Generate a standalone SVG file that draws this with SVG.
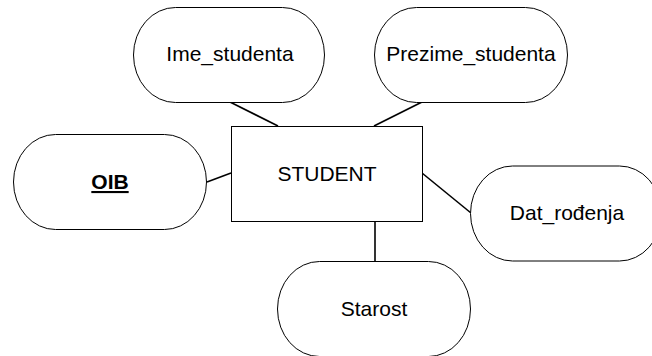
<svg xmlns="http://www.w3.org/2000/svg" width="652" height="356" viewBox="0 0 652 356">
<style>
.attr{fill:#ffffff;stroke:#000000;stroke-width:1}
.ent{fill:#ffffff;stroke:#000000;stroke-width:1}
.lbl{font-family:"Liberation Sans",Arial,sans-serif;font-size:21px;fill:#000000;text-anchor:middle}
.key{font-weight:bold;text-decoration:underline}
.conn line{stroke:#000000;stroke-width:1.6}
</style>
<rect width="652" height="356" fill="#ffffff"/>
<g id="connectors" class="conn">
<line x1="230" y1="102" x2="278" y2="126"/>
<line x1="422" y1="102" x2="374" y2="126"/>
<line x1="207" y1="182" x2="231" y2="173"/>
<line x1="422" y1="173" x2="471" y2="213"/>
<line x1="375" y1="221" x2="375" y2="262"/>
</g>
<g id="student">
<rect class="ent" x="231.5" y="126.5" width="191" height="95"/>
<text class="lbl" x="327" y="180.5">STUDENT</text>
</g>
<g id="ime_studenta">
<rect class="attr" x="133.5" y="7.5" width="191" height="95" rx="42" ry="47.5"/>
<text class="lbl" x="230" y="61">Ime_studenta</text>
</g>
<g id="prezime_studenta">
<rect class="attr" x="374.5" y="7.5" width="193" height="95" rx="42" ry="47.5"/>
<text class="lbl" x="471" y="61">Prezime_studenta</text>
</g>
<g id="oib">
<rect class="attr" x="13.5" y="134.5" width="193" height="95" rx="42" ry="47.5"/>
<text class="lbl key" x="110" y="189">OIB</text>
</g>
<g id="dat_rodjenja">
<rect class="attr" x="470.5" y="166" width="191" height="95" rx="42" ry="47.5"/>
<text class="lbl" x="567" y="220">Dat_rođenja</text>
</g>
<g id="starost">
<rect class="attr" x="277.5" y="261.5" width="193" height="95" rx="42" ry="47.5"/>
<text class="lbl" x="374" y="316">Starost</text>
</g>
</svg>
